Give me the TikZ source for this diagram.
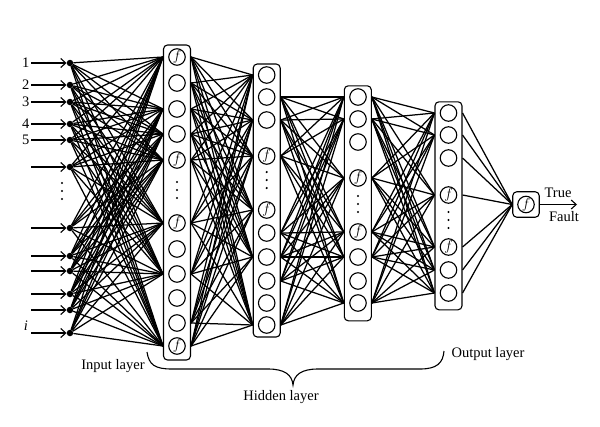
\documentclass[tikz,border=0pt]{standalone}
\usepackage{fontspec}
\setmainfont{Liberation Serif}
\usetikzlibrary{arrows.meta}
\newcommand\actf{$f$}
\begin{document}
\begin{tikzpicture}[x=1pt,y=-1pt,font=\fontsize{14.5}{17}\selectfont,
    neuron/.style={circle,draw,line width=1.1pt,minimum size=16.5pt,inner sep=0pt,font=\fontsize{14}{14}\selectfont},
    lbox/.style={draw,rounded corners=4pt,line width=1.1pt,minimum width=27pt,inner sep=0pt},
    link/.style={line width=1.25pt},
    indot/.style={circle,fill,inner sep=0pt,minimum size=6.5pt},
    inarrow/.style={line width=1.1pt,-{Straight Barb[length=5pt,width=9pt]}}]
\useasboundingbox (0,0) rectangle (600,426);
% layer boxes
\node[lbox,minimum height=315pt] (b1) at (177,202.5) {};
\node[lbox,minimum height=273pt] (b2) at (266.7,200.5) {};
\node[lbox,minimum height=235pt] (b3) at (357.8,203.3) {};
\node[lbox,minimum height=208pt] (b4) at (448.5,205.8) {};
\node[lbox,minimum width=26.5pt,minimum height=25.5pt] (ob) at (526,204.5) {};
\node[neuron] (oc) at (526,204.5) {\actf};
% neurons
\foreach \y/\t [count=\k] in {57/\actf,83/{},109/{},134/{},160/\actf,223/\actf,249/{},274/{},298/{},323/{},346/\actf}
  \node[neuron] (h1c\k) at (177,\y) {\t};
\foreach \y/\t [count=\k] in {75/{},97/{},120/{},156/\actf,210/\actf,233/{},257/{},281/{},303/{},325/{}}
  \node[neuron] (h2c\k) at (266.7,\y) {\t};
\foreach \y/\t [count=\k] in {97/{},119/{},142/{},178/\actf,232/\actf,257/{},281/{},303/{}}
  \node[neuron] (h3c\k) at (358,\y) {\t};
\foreach \y/\t [count=\k] in {113/{},135/{},158/{},195/\actf,247/\actf,270/{},293/{}}
  \node[neuron] (h4c\k) at (448.5,\y) {\t};
% vertical dots
\foreach \x/\y in {62/183,177/182,266.7/172,358/196,448.5/212}
  \foreach \d in {0,8,16}
    \fill (\x,\y+\d) circle (1.2pt);
% input layer
\foreach \y [count=\i] in {63,85,102,124,140,167,228,256,271,294,310,333}{
  \coordinate (s\i) at (31,\y);
  \node[indot] (in\i) at (70,\y) {};
  \draw[inarrow] (s\i) -- (in\i);
}
\foreach \i in {1,...,5}
  \node[left,inner sep=1.5pt] (lab\i) at (s\i) {\i};
\node (labi) at (26,326) {\textit{i}};
% connections
\foreach \i in {1,...,12}
  \foreach \j in {1,3,4,5,6,8,11}
    \draw[link] (in\i) -- (h1c\j -| b1.west);
\foreach \i in {1,2,3,4,5,6,8,10,11}
  \foreach \j in {1,3,4,5,7,10}
    \draw[link] (h1c\i -| b1.east) -- (h2c\j -| b2.west);
\foreach \i in {2,3,4,6,7,8,10}
  \foreach \j in {1,2,4,5,6,8}
    \draw[link] (h2c\i -| b2.east) -- (h3c\j -| b3.west);
\foreach \i in {1,2,4,5,6,8}
  \foreach \j in {1,2,4,5,6,7}
    \draw[link] (h3c\i -| b3.east) -- (h4c\j -| b4.west);
\foreach \i in {1,...,7}
  \draw[link] (h4c\i -| b4.east) -- (ob.west);
% output
\coordinate (oend) at (577,204.5);
\draw[inarrow] (ob.east) -- (oend);
\node (tr) at (558,193) {True};
\node (fa) at (564,217) {Fault};
% brace and labels
\draw[line width=1.1pt] (147,352) .. controls (149,365) and (155,369) .. (172,369) -- (268,369)
  .. controls (285,369) and (292,375) .. (293,385) .. controls (294,375) and (301,369) .. (318,369)
  -- (420,369) .. controls (437,369) and (443,363) .. (444,351);
\node (inlbl) at (113,366) {Input layer};
\node (hidlbl) at (281,397) {Hidden layer};
\node (outlbl) at (488,354) {Output layer};
\end{tikzpicture}
\end{document}
